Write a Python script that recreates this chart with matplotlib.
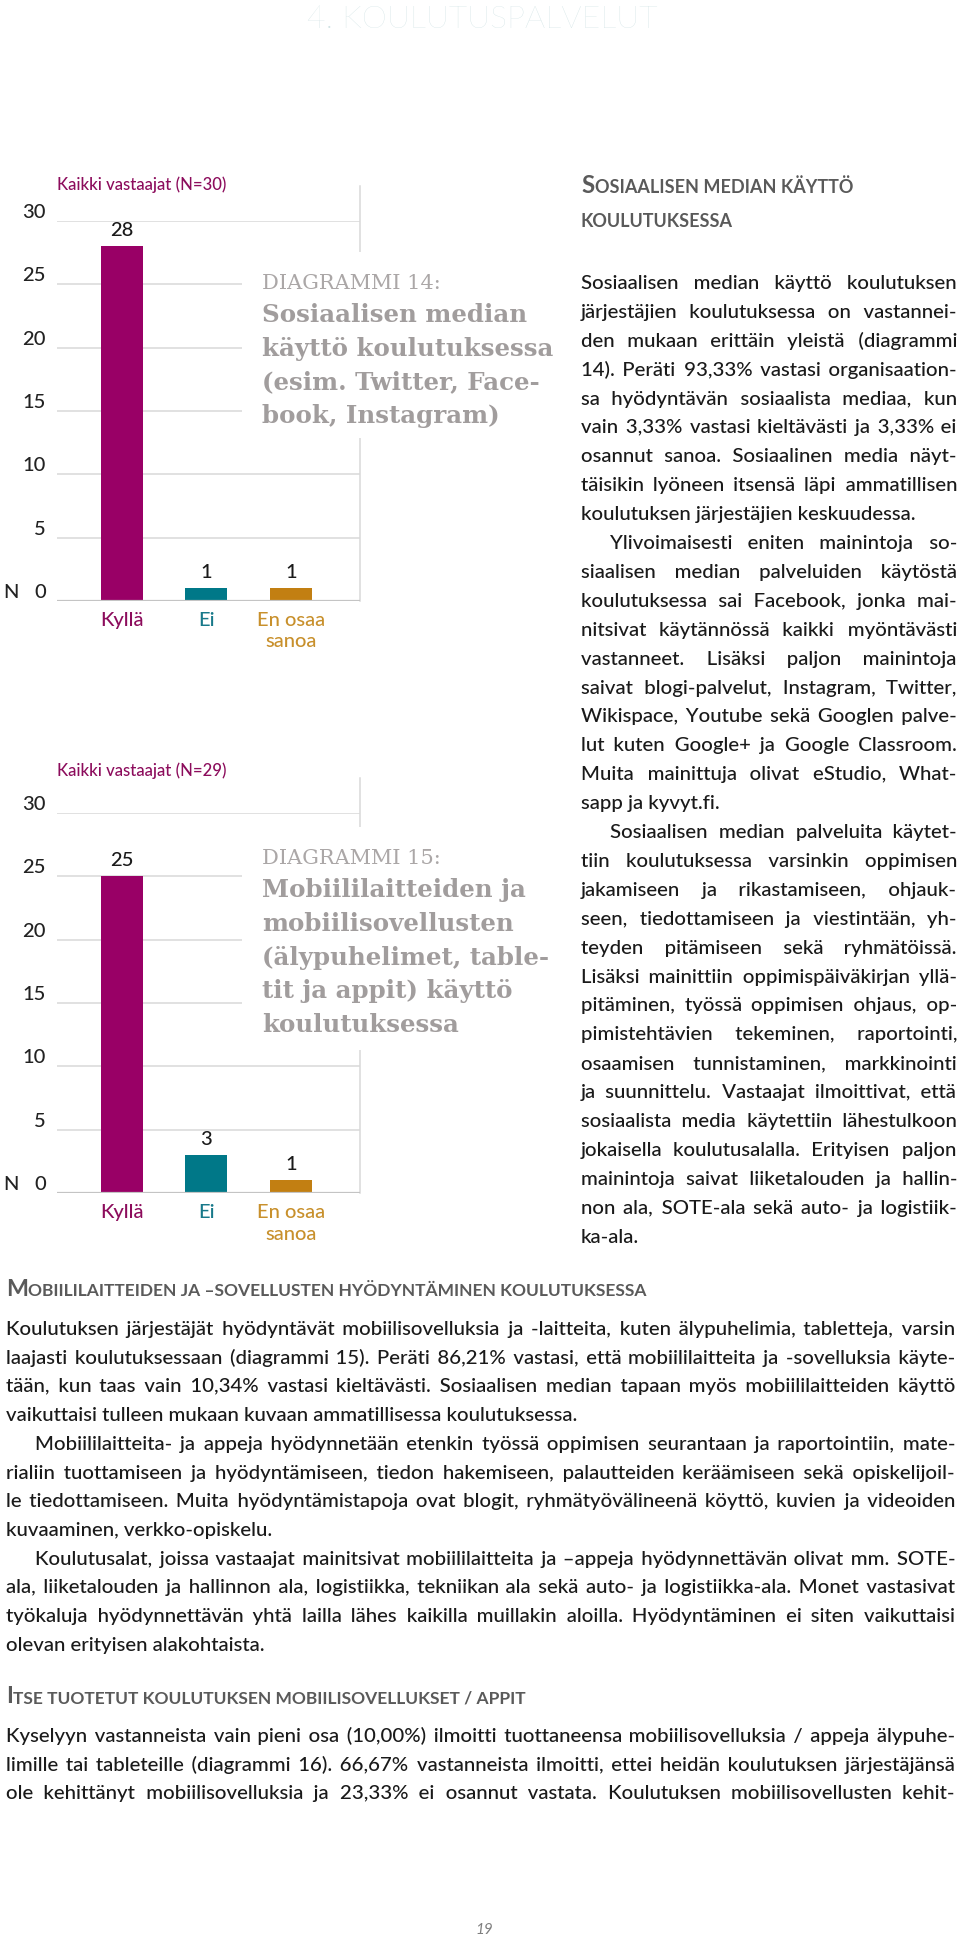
import matplotlib
matplotlib.use("Agg")
import matplotlib.pyplot as plt
from matplotlib.patches import Rectangle
from matplotlib.transforms import offset_copy

# --- chart data ---
categories = ["Kyllä", "Ei", "En osaa\nsanoa"]
counts_14 = [28, 1, 1]
counts_15 = [25, 3, 1]
y_ticks = [0, 5, 10, 15, 20, 25, 30]
respondents_14 = 30
respondents_15 = 29

bar_colors = ["#990066", "#007888", "#c27f12"]
cat_colors = ["#8c0c5c", "#18798a", "#c8902c"]

title_14 = ["Sosiaalisen median", "käyttö koulutuksessa",
            "(esim. Twitter, Face-", "book, Instagram)"]
title_15 = ["Mobiililaitteiden ja", "mobiilisovellusten",
            "(älypuhelimet, table-", "tit ja appit) käyttö", "koulutuksessa"]

# --- page text (paragraph: indent first line, lines, justify last line) ---
right_paras = [
    (False, ["Sosiaalisen median käyttö koulutuksen",
             "järjestäjien koulutuksessa on vastannei-",
             "den mukaan erittäin yleistä (diagrammi",
             "14). Peräti 93,33% vastasi organisaation-",
             "sa hyödyntävän sosiaalista mediaa, kun",
             "vain 3,33% vastasi kieltävästi ja 3,33% ei",
             "osannut sanoa. Sosiaalinen media näyt-",
             "täisikin lyöneen itsensä läpi ammatillisen",
             "koulutuksen järjestäjien keskuudessa."], False),
    (True, ["Ylivoimaisesti eniten mainintoja so-",
            "siaalisen median palveluiden käytöstä",
            "koulutuksessa sai Facebook, jonka mai-",
            "nitsivat käytännössä kaikki myöntävästi",
            "vastanneet. Lisäksi paljon mainintoja",
            "saivat blogi-palvelut, Instagram, Twitter,",
            "Wikispace, Youtube sekä Googlen palve-",
            "lut kuten Google+ ja Google Classroom.",
            "Muita mainittuja olivat eStudio, What-",
            "sapp ja kyvyt.fi."], False),
    (True, ["Sosiaalisen median palveluita käytet-",
            "tiin koulutuksessa varsinkin oppimisen",
            "jakamiseen ja rikastamiseen, ohjauk-",
            "seen, tiedottamiseen ja viestintään, yh-",
            "teyden pitämiseen sekä ryhmätöissä.",
            "Lisäksi mainittiin oppimispäiväkirjan yllä-",
            "pitäminen, työssä oppimisen ohjaus, op-",
            "pimistehtävien tekeminen, raportointi,",
            "osaamisen tunnistaminen, markkinointi",
            "ja suunnittelu. Vastaajat ilmoittivat, että",
            "sosiaalista media käytettiin lähestulkoon",
            "jokaisella koulutusalalla. Erityisen paljon",
            "mainintoja saivat liiketalouden ja hallin-",
            "non ala, SOTE-ala sekä auto- ja logistiik-",
            "ka-ala."], False),
]

bottom_paras_1 = [
    (False, ["Koulutuksen järjestäjät hyödyntävät mobiilisovelluksia ja -laitteita, kuten älypuhelimia, tabletteja, varsin",
             "laajasti koulutuksessaan (diagrammi 15). Peräti 86,21% vastasi, että mobiililaitteita ja -sovelluksia käyte-",
             "tään, kun taas vain 10,34% vastasi kieltävästi. Sosiaalisen median tapaan myös mobiililaitteiden käyttö",
             "vaikuttaisi tulleen mukaan kuvaan ammatillisessa koulutuksessa."], False),
    (True, ["Mobiililaitteita- ja appeja hyödynnetään etenkin työssä oppimisen seurantaan ja raportointiin, mate-",
            "rialiin tuottamiseen ja hyödyntämiseen, tiedon hakemiseen, palautteiden keräämiseen sekä opiskelijoil-",
            "le tiedottamiseen. Muita hyödyntämistapoja ovat blogit, ryhmätyövälineenä köyttö, kuvien ja videoiden",
            "kuvaaminen, verkko-opiskelu."], False),
    (True, ["Koulutusalat, joissa vastaajat mainitsivat mobiililaitteita ja –appeja hyödynnettävän olivat mm. SOTE-",
            "ala, liiketalouden ja hallinnon ala, logistiikka, tekniikan ala sekä auto- ja logistiikka-ala. Monet vastasivat",
            "työkaluja hyödynnettävän yhtä lailla lähes kaikilla muillakin aloilla. Hyödyntäminen ei siten vaikuttaisi",
            "olevan erityisen alakohtaista."], False),
]
bottom_paras_2 = [
    (False, ["Kyselyyn vastanneista vain pieni osa (10,00%) ilmoitti tuottaneensa mobiilisovelluksia / appeja älypuhe-",
             "limille tai tableteille (diagrammi 16). 66,67% vastanneista ilmoitti, ettei heidän koulutuksen järjestäjänsä",
             "ole kehittänyt mobiilisovelluksia ja 23,33% ei osannut vastata. Koulutuksen mobiilisovellusten kehit-"], True),
]

W, H = 960, 1939
SANS = ["Lato", "DejaVu Sans"]
SERIF = ["DejaVu Serif"]
WT = "medium"
TEXT = "#1a1a1a"
HEAD = "#5a5a5a"
HAIR = "\u200a"

fig = plt.figure(figsize=(W / 100, H / 100), dpi=100)
page = fig.add_axes([0, 0, 1, 1], zorder=3)
page.set_xlim(0, W)
page.set_ylim(H, 0)
page.axis("off")
renderer = fig.canvas.get_renderer()


def width_of(s, **kw):
    t = page.text(0, 0, s, **kw)
    w = t.get_window_extent(renderer).width
    t.remove()
    return w


# ---------------- charts ----------------
AX_L, AX_R = 57, 360
PX_UNIT = 380 / 30


def draw_chart(top, counts, n, diag_no, title, label_y, box):
    base = top + 380
    ax = fig.add_axes([AX_L / W, 1 - base / H, (AX_R - AX_L) / W, 380 / H], zorder=1)
    xs = list(range(len(counts)))
    ax.bar(xs, counts, width=0.5, color=bar_colors, zorder=2)
    ax.set_xlim(-0.77, 2.82)
    ax.set_ylim(0, 30)
    ax.axis("off")
    for v in y_ticks[1:]:
        ax.axhline(v, color="#d9d9d9", lw=1.1, zorder=1)
    ax.axhline(0, color="#c4c4c4", lw=1.6, zorder=3)
    ax.plot([1, 1], [0, 30 + 35 / PX_UNIT], transform=ax.get_yaxis_transform(),
            color="#d9d9d9", lw=1.1, clip_on=False)

    tick_tr = offset_copy(ax.get_yaxis_transform(), fig=fig, x=-11, y=3, units="dots")
    for v in y_ticks:
        ax.text(0, v, str(v), transform=tick_tr, ha="right", va="baseline",
                fontsize=14.5, family=SANS, weight=WT, color="#222222")
    page.text(11, base - 3, "N", ha="center", va="baseline", fontsize=14.5,
              family=SANS, weight=WT, color="#222222")

    val_tr = offset_copy(ax.transData, fig=fig, y=10, units="dots")
    for x, v in zip(xs, counts):
        ax.text(x, v, str(v), transform=val_tr, ha="center", va="baseline",
                fontsize=14.5, family=SANS, weight=WT, color="#1a1a1a")

    for x, lab, col in zip(xs, categories, cat_colors):
        for k, part in enumerate(lab.split("\n")):
            tr = offset_copy(ax.transData, fig=fig, y=-(25 + 21.5 * k), units="dots")
            ax.text(x, 0, part, transform=tr, ha="center", va="baseline",
                    fontsize=14.5, family=SANS, weight=WT, color=col)

    page.text(AX_L, label_y, f"Kaikki vastaajat (N={n})", ha="left", va="baseline",
              fontsize=12, family=SANS, weight=WT, color="#8c0c5c")

    # white box behind the diagram title hides part of the grid
    page.add_patch(Rectangle((242, box[0]), 335, box[1] - box[0],
                             facecolor="white", edgecolor="none", zorder=1))
    t_y = box[0] + 37
    page.text(262, t_y, f"DIAGRAMMI {diag_no}:", ha="left", va="baseline",
              fontsize=TITLE_REG, family=SERIF, color="#aba7a7", zorder=2)
    for k, line in enumerate(title):
        page.text(262, t_y + 33.5 * (k + 1), line, ha="left", va="baseline",
                  fontsize=TITLE_BOLD, family=SERIF, weight="bold",
                  color="#a19d9d", zorder=2)


TITLE_BOLD = 17 * 292 / width_of("käyttö koulutuksessa", fontsize=17, family=SERIF, weight="bold")
TITLE_REG = 15 * 179 / width_of("DIAGRAMMI 14:", fontsize=15, family=SERIF)

draw_chart(221, counts_14, respondents_14, 14, title_14, 190, (252, 438))
draw_chart(813, counts_15, respondents_15, 15, title_15, 776, (827, 1050))


# ---------------- page text ----------------
def max_ratio(paras, x0, x1, indent, size):
    r = 0
    for first_indent, lines, justify_last in paras:
        for i, line in enumerate(lines):
            if i == len(lines) - 1 and not justify_last:
                continue
            left = x0 + (indent if (i == 0 and first_indent) else 0)
            r = max(r, width_of(line, fontsize=size, family=SANS, weight=WT) / (x1 - left))
    return r


def layout(paras, x0, x1, y0, step, size, indent):
    # one text per line; justification by padding the word gaps with hair spaces
    kw = dict(fontsize=size, family=SANS, weight=WT, color=TEXT, va="baseline", ha="left")
    filler = HAIR
    unit = (width_of("n" + HAIR * 10 + "n", **kw) - width_of("nn", **kw)) / 10
    if unit < 0.3:
        filler = " "
        unit = width_of("n n", **kw) - width_of("nn", **kw)
    y = y0
    for first_indent, lines, justify_last in paras:
        for i, line in enumerate(lines):
            left = x0 + (indent if (i == 0 and first_indent) else 0)
            words = line.split(" ")
            last = i == len(lines) - 1
            s = line
            if (not last or justify_last) and len(words) > 1:
                extra = (x1 - left) - width_of(line, **kw)
                gaps = len(words) - 1
                s = words[0]
                used = 0
                for j, w in enumerate(words[1:], 1):
                    want = max(0, round(extra * j / gaps / unit))
                    s += " " + filler * (want - used) + w
                    used = want
            page.text(left, y, s, **kw)
            y += step


BASE = 15.0
ratio = max(max_ratio(right_paras, 581, 957, 29, BASE),
            max_ratio(bottom_paras_1, 6, 955, 29, BASE),
            max_ratio(bottom_paras_2, 6, 955, 29, BASE))
BODY = BASE * min(1.0, 0.985 / ratio)

layout(right_paras, 581, 957, 289, 28.9, BODY, 29)
layout(bottom_paras_1, 6, 955, 1335, 28.7, BODY, 29)
layout(bottom_paras_2, 6, 955, 1742, 28.7, BODY, 29)


def heading(x, y, text, big, small, big_first=True):
    kw = dict(family=SANS, weight="bold", color=HEAD, va="baseline", ha="left")
    if big_first:
        t = page.text(x, y, text[0], fontsize=big, **kw)
        x += t.get_window_extent(renderer).width + 0.5
        text = text[1:]
    page.text(x, y, text, fontsize=small, **kw)


def heading_sizes(text, target):
    kw = dict(family=SANS, weight="bold")
    w = width_of(text[0], fontsize=14, **kw) + width_of(text[1:], fontsize=10.5, **kw)
    k = target / w
    return 14 * k, 10.5 * k


hs = heading_sizes("SOSIAALISEN MEDIAN KÄYTTÖ", 270)
heading(581, 193, "SOSIAALISEN MEDIAN KÄYTTÖ", *hs)
heading(581, 227, "KOULUTUKSESSA", *hs, big_first=False)

hs = heading_sizes("MOBIILILAITTEIDEN JA –SOVELLUSTEN HYÖDYNTÄMINEN KOULUTUKSESSA", 642)
heading(6, 1296, "MOBIILILAITTEIDEN JA –SOVELLUSTEN HYÖDYNTÄMINEN KOULUTUKSESSA", *hs)
heading(6, 1703, "ITSE TUOTETUT KOULUTUKSEN MOBIILISOVELLUKSET / APPIT", *hs)

page.text(482, 20, "4. KOULUTUSPALVELUT", ha="center", va="center", fontsize=23,
          family=SANS, weight="light", color="#d0e2e4")
page.text(484, 1930, "19", ha="center", va="center", fontsize=11, style="italic",
          family=SANS, color="#7f7f7f")

fig.savefig("out.png", dpi=100)
